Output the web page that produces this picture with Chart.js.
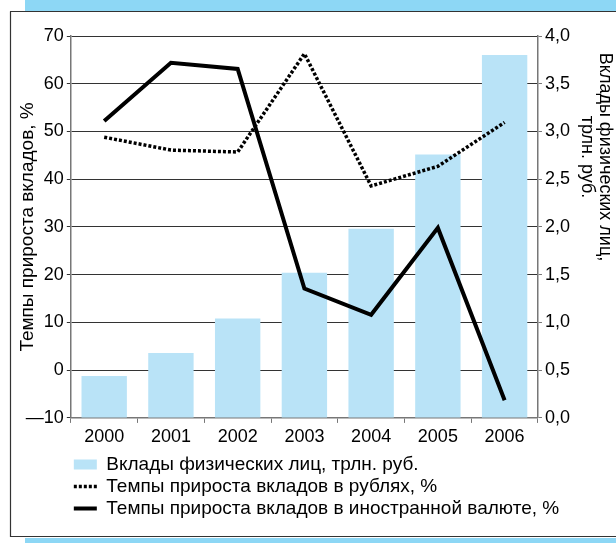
<!DOCTYPE html>
<html lang="ru">
  <head>
    <meta charset="UTF-8" />
    <title>Вклады физических лиц</title>
    <script src="https://cdn.jsdelivr.net/npm/chart.js"></script>
    <style>
      body { margin: 0; background: #fff; }
      canvas { display: block; }
    </style>
  </head>
  <body>
    <canvas id="depositChart" width="616" height="543"></canvas>
    <script>
      const years = ["2000", "2001", "2002", "2003", "2004", "2005", "2006"];
      // трлн. руб. (правая ось)
      const deposits = [0.44, 0.68, 1.04, 1.52, 1.98, 2.76, 3.8];
      // % (левая ось)
      const rubleGrowth = [48.8, 46.1, 45.7, 66.3, 38.6, 42.7, 51.9];
      const fxGrowth = [52.2, 64.4, 63.1, 17.1, 11.6, 29.8, -6.3];

      const FONT = "'Liberation Sans', Arial, sans-serif";
      const barColor = "#b9e3f7";
      const bandColor = "#8dd7f5";

      // рамка и голубые полосы сверху и снизу
      const framePlugin = {
        id: "frame",
        beforeDraw(chart) {
          const { ctx, width, height } = chart;
          ctx.save();
          ctx.fillStyle = "#fff";
          ctx.fillRect(0, 0, width, height);
          ctx.fillStyle = bandColor;
          ctx.fillRect(25, 0, width - 25, 11);
          ctx.fillRect(25, 538, width - 25, height - 538);
          ctx.strokeStyle = "#333";
          ctx.lineWidth = 1.2;
          ctx.beginPath();
          ctx.moveTo(10, 11.5);
          ctx.lineTo(width, 11.5);
          ctx.moveTo(10.5, 11.5);
          ctx.lineTo(10.5, 536.5);
          ctx.lineTo(width, 536.5);
          ctx.stroke();
          ctx.restore();
        },
      };

      // легенда сидит под областью графика, но последняя строка шире её
      const legendWidthPlugin = {
        id: "legendWidth",
        afterLayout(chart) {
          const lg = chart.legend;
          if (lg) {
            lg.right = chart.width;
            lg.width = lg.right - lg.left;
          }
        },
      };

      // подпись правой оси в две строки
      const rightTitlePlugin = {
        id: "rightTitle",
        afterDraw(chart) {
          const { ctx, chartArea } = chart;
          const scale = chart.scales.y1;
          const lines = ["Вклады физических лиц,", "трлн. руб."];
          ctx.save();
          ctx.font = "18px " + FONT;
          ctx.fillStyle = "#000";
          ctx.textAlign = "center";
          ctx.textBaseline = "middle";
          lines.forEach((line, i) => {
            ctx.save();
            ctx.translate(scale.right + 32 - i * 18, chartArea.top + 121);
            ctx.rotate(Math.PI / 2);
            ctx.fillText(line, 0, 0);
            ctx.restore();
          });
          ctx.restore();
        },
      };

      const ctx = document.getElementById("depositChart").getContext("2d");
      new Chart(ctx, {
        data: {
          labels: years,
          datasets: [
            {
              type: "line",
              label: "Темпы прироста вкладов в иностранной валюте, %",
              data: fxGrowth,
              yAxisID: "y",
              borderColor: "#000",
              backgroundColor: "#000",
              borderWidth: 4,
              tension: 0,
              pointRadius: 0,
              borderJoinStyle: "miter",
            },
            {
              type: "line",
              label: "Темпы прироста вкладов в рублях, %",
              data: rubleGrowth,
              yAxisID: "y",
              borderColor: "#000",
              backgroundColor: "#000",
              borderWidth: 3.5,
              borderDash: [3, 2],
              tension: 0,
              pointRadius: 0,
            },
            {
              type: "bar",
              label: "Вклады физических лиц, трлн. руб.",
              data: deposits,
              yAxisID: "y1",
              backgroundColor: barColor,
              borderWidth: 0,
              barPercentage: 0.68,
              categoryPercentage: 1,
            },
          ],
        },
        options: {
          responsive: false,
          animation: false,
          layout: { padding: { left: 15, right: 43, top: 36, bottom: 15 } },
          plugins: {
            tooltip: { enabled: false },
            legend: {
              position: "bottom",
              align: "start",
              fullSize: false,
              labels: {
                color: "#000",
                font: { family: FONT, size: 19 },
                usePointStyle: true,
                pointStyleWidth: 23,
                boxHeight: 10,
                padding: 3,
                generateLabels(chart) {
                  const ds = chart.data.datasets;
                  return [2, 1, 0].map((i) => ({
                    text: ds[i].label,
                    datasetIndex: i,
                    fillStyle: ds[i].backgroundColor,
                    strokeStyle: ds[i].borderColor || ds[i].backgroundColor,
                    lineWidth: ds[i].type === "bar" ? 0 : ds[i].borderWidth,
                    lineDash: ds[i].borderDash || [],
                    pointStyle: ds[i].type === "bar" ? "rect" : "line",
                    fontColor: "#000",
                    hidden: false,
                  }));
                },
              },
            },
          },
          scales: {
            x: {
              offset: true,
              grid: {
                offset: true,
                drawOnChartArea: false,
                color: "#777",
                tickLength: 5,
              },
              border: { color: "#777", width: 1.5 },
              ticks: {
                color: "#000",
                font: { family: FONT, size: 18, lineHeight: 1.45 },
                padding: 1.5,
              },
            },
            y: {
              position: "left",
              min: -10,
              max: 70,
              ticks: {
                stepSize: 10,
                color: "#000",
                padding: 3,
                font: { family: FONT, size: 18 },
                callback: (v) => (v < 0 ? "—" + Math.abs(v) : String(v)),
              },
              grid: { color: "#333", lineWidth: 1, tickLength: 4 },
              border: { color: "#777", width: 1.5 },
              title: {
                display: true,
                text: "Темпы прироста вкладов, %",
                color: "#000",
                font: { family: FONT, size: 19 },
                padding: { top: 1, bottom: -16 },
              },
            },
            y1: {
              position: "right",
              min: 0,
              max: 4,
              ticks: {
                stepSize: 0.5,
                color: "#000",
                padding: 3,
                font: { family: FONT, size: 18 },
                callback: (v) => v.toFixed(1).replace(".", ","),
              },
              grid: { drawOnChartArea: false, color: "#777", tickLength: 4 },
              border: { color: "#777", width: 1.5 },
            },
          },
        },
        plugins: [framePlugin, legendWidthPlugin, rightTitlePlugin],
      });
    </script>
  </body>
</html>
